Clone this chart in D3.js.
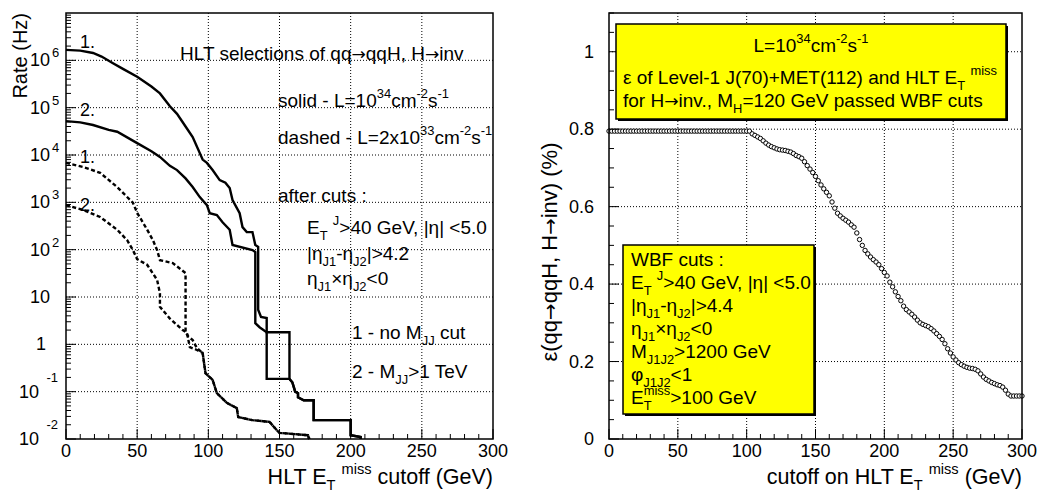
<!DOCTYPE html>
<html>
<head>
<meta charset="utf-8">
<script src="https://cdn.jsdelivr.net/npm/d3@7"></script>
<style>
  body { margin: 0; background: #fff; }
  svg text { font-family: "Liberation Sans", Arial, Helvetica, sans-serif; white-space: pre; }
</style>
</head>
<body>
<svg id="chart" width="1037" height="494"></svg>
<script>
// ---- left panel: rate vs HLT MET cutoff, [cutoff GeV, rate Hz] vertices ----
const solidNoMjj = [
  [0, 1.66e6], [10, 1.6e6], [19, 1.43e6], [25, 1.2e6], [33, 8.7e5], [40, 6.6e5], [50, 4.5e5],
  [60, 2.8e5], [66, 2.0e5], [73, 1.07e5], [78, 7.4e4], [84, 4.0e4], [89, 2.4e4], [96, 8e3],
  [99, 6.8e3], [103, 4.8e3], [108, 2.95e3], [112, 2.6e3], [115, 2.0e3], [117, 1.12e3],
  [122, 590], [124, 300], [127, 235], [131, 235], [133, 126], [135, 115],
  [135, 5.4], [137, 3.8], [141, 3.6], [141, 1.8], [157, 1.8], [157, 0.186], [159, 0.158],
  [160, 0.126], [161, 0.1], [163, 0.093], [163, 0.076], [167, 0.066], [174, 0.066],
  [174, 0.025], [200, 0.025], [200, 0.012], [207, 0.011], [207, 0.01]
]
const solidMjj = [
  [0, 5.2e4], [10, 4.9e4], [19, 4.3e4], [30, 3.4e4], [36, 3.1e4], [50, 1.78e4], [60, 1.2e4],
  [66, 9.1e3], [73, 5.9e3], [78, 4.8e3], [84, 3.2e3], [89, 2.1e3], [94, 1.29e3], [99, 870],
  [101, 590], [106, 540], [110, 380], [115, 263], [117, 126], [131, 98], [133, 89],
  [133, 2.8], [136, 2.3], [141, 1.8], [141, 0.186], [157, 0.186], [159, 0.158],
  [160, 0.126], [161, 0.1], [163, 0.093], [163, 0.076], [167, 0.066], [174, 0.066],
  [174, 0.025], [200, 0.025], [200, 0.012], [207, 0.011], [207, 0.01]
]
const dashedNoMjj = [
  [0, 6800], [12, 5600], [24, 4200], [36, 2100], [47, 980], [50, 600], [57, 265], [61, 160],
  [64, 98], [66, 60], [75, 52], [84, 32], [84, 1.8], [86, 1.45], [89, 1.23], [92, 0.83],
  [96, 0.66], [98, 0.245], [103, 0.178], [106, 0.093], [113, 0.058], [120, 0.045],
  [121, 0.029], [131, 0.025], [143, 0.023], [148, 0.0155], [150, 0.0135], [170, 0.012], [171, 0.01]
]
const dashedMjj = [
  [0, 870], [12, 690], [24, 490], [36, 263], [43, 158], [47, 98], [50, 63], [57, 48],
  [64, 23], [66, 12], [66, 6.2], [73, 3.5], [82, 2.0], [85, 1.74], [87, 0.87], [92, 0.76],
  [96, 0.66], [98, 0.245], [103, 0.178], [106, 0.093], [113, 0.058], [120, 0.045],
  [121, 0.029], [131, 0.025], [143, 0.023], [148, 0.0155], [150, 0.0135], [170, 0.012], [171, 0.01]
]
const rateExponents = [-2, -1, 0, 1, 2, 3, 4, 5, 6]
const cutTicks = [0, 50, 100, 150, 200, 250, 300]

// ---- right panel: efficiency vs cutoff, one value every 2 GeV from 0 to 300 ----
const effCutStep = 2
const effValues = [
  0.795, 0.795, 0.795, 0.795, 0.795, 0.795, 0.795, 0.795, 0.795, 0.795,
  0.795, 0.795, 0.795, 0.795, 0.795, 0.795, 0.795, 0.795, 0.795, 0.795,
  0.795, 0.795, 0.795, 0.795, 0.795, 0.795, 0.795, 0.795, 0.795, 0.795,
  0.795, 0.795, 0.795, 0.795, 0.795, 0.795, 0.795, 0.795, 0.795, 0.795,
  0.795, 0.795, 0.795, 0.795, 0.795, 0.795, 0.795, 0.795, 0.795, 0.795,
  0.795, 0.795, 0.788, 0.784, 0.780, 0.776, 0.770, 0.764, 0.759, 0.755,
  0.752, 0.749, 0.747, 0.746, 0.745, 0.743, 0.741, 0.737, 0.732, 0.729,
  0.725, 0.716, 0.706, 0.697, 0.688, 0.678, 0.667, 0.656, 0.646, 0.637,
  0.628, 0.612, 0.596, 0.583, 0.576, 0.570, 0.565, 0.560, 0.553, 0.547,
  0.532, 0.515, 0.500, 0.487, 0.478, 0.470, 0.463, 0.457, 0.450, 0.440,
  0.430, 0.421, 0.405, 0.393, 0.380, 0.368, 0.357, 0.343, 0.334, 0.328,
  0.322, 0.315, 0.307, 0.300, 0.296, 0.293, 0.290, 0.285, 0.279, 0.272,
  0.265, 0.257, 0.246, 0.233, 0.222, 0.212, 0.204, 0.197, 0.192, 0.188,
  0.185, 0.183, 0.182, 0.180, 0.176, 0.168, 0.160, 0.154, 0.150, 0.146,
  0.143, 0.140, 0.138, 0.134, 0.126, 0.116, 0.111, 0.111, 0.111, 0.111,
  0.111
]
const effTicks = [0, 0.2, 0.4, 0.6, 0.8, 1]

const leftNotes = [
  { x: 180, y: 60, s: 'HLT selections of qq→qqH, H→inv' },
  { x: 278, y: 107, s: 'solid - L=10^{34}cm^{-2}s^{-1}' },
  { x: 278, y: 144, s: 'dashed - L=2x10^{33}cm^{-2}s^{-1}' },
  { x: 278, y: 202, s: 'after cuts :' },
  { x: 307, y: 234, s: 'E_{T} ^{J}>40 GeV, |η| <5.0' },
  { x: 307, y: 260, s: '|η_{J1}-η_{J2}|>4.2' },
  { x: 307, y: 285, s: 'η_{J1}×η_{J2}<0' },
  { x: 352, y: 339, s: '1 - no M_{JJ} cut' },
  { x: 352, y: 378, s: '2 - M_{JJ}>1 TeV' }
]
const curveTags = [
  { x: 80, y: 48, s: '1.' }, { x: 80, y: 116, s: '2.' },
  { x: 80, y: 163, s: '1.' }, { x: 80, y: 211, s: '2.' }
]
const boxTopLines = [
  'L=10^{34}cm^{-2}s^{-1}',
  'ε of Level-1 J(70)+MET(112) and HLT E_{T} ^{miss}',
  'for H→inv., M_{H}=120 GeV passed WBF cuts'
]
const boxCutLines = [
  'WBF cuts :', 'E_{T} ^{J}>40 GeV, |η| <5.0', '|η_{J1}-η_{J2}|>4.4', 'η_{J1}×η_{J2}<0',
  'M_{J1J2}>1200 GeV', 'φ_{J1J2}<1', 'E_{T}^{miss}>100 GeV'
]

const svg = d3.select('#chart')

// ROOT-like text: _{..} subscript, ^{..} superscript; ^ right after _ is stacked
function rich(sel, str, fs) {
  const re = /([_^])\{([^}]*)\}/g
  const parts = []
  let last = 0, m
  while ((m = re.exec(str))) {
    if (m.index > last) parts.push({ t: str.slice(last, m.index), k: 'n' })
    parts.push({ t: m[2], k: m[1] === '_' ? 'sub' : 'sup' })
    last = re.lastIndex
  }
  if (last < str.length) parts.push({ t: str.slice(last), k: 'n' })
  let cur = 0, prev = null
  parts.forEach((p) => {
    const off = p.k === 'sub' ? 0.3 * fs : p.k === 'sup' ? -0.45 * fs : 0
    const size = p.k === 'n' ? fs : fs * 0.68
    const pieces = p.t.split(/(→)/).filter((s) => s !== '')
    let first = null, lastNode = null
    pieces.forEach((s, j) => {
      const ts = sel.append('tspan').attr('font-size', size).text(s)
      if (s === '→') ts.attr('font-family', 'DejaVu Sans').attr('font-size', size * 0.9)
      if (j === 0) { ts.attr('dy', off - cur); first = ts }
      lastNode = ts.node()
    })
    if (p.k === 'sup' && prev && prev.k === 'sub') {
      first.attr('dx', -prev.node.getComputedTextLength())
    }
    cur = off
    prev = { k: p.k, node: lastNode }
  })
  if (cur !== 0) sel.append('tspan').attr('dy', -cur).attr('font-size', fs).text('')
  return sel
}

function panel(x0, x1, y0, y1) {
  svg.append('rect').attr('x', x0).attr('y', y0).attr('width', x1 - x0).attr('height', y1 - y0)
    .attr('fill', 'none').attr('stroke', '#000').attr('stroke-width', 1.5)
}

// ================= left panel =================
const xL = d3.scaleLinear().domain([0, 300]).range([66, 493])
const yL = d3.scaleLog().domain([1e-2, 1e7]).range([439, 13])

const gL = svg.append('g')
// grid
gL.selectAll('.gx').data(cutTicks.slice(1, -1)).join('line')
  .attr('x1', (d) => xL(d)).attr('x2', (d) => xL(d)).attr('y1', 13).attr('y2', 439)
  .attr('stroke', '#000').attr('stroke-width', 1).attr('stroke-dasharray', '1,2')
gL.selectAll('.gy').data(rateExponents.slice(1)).join('line')
  .attr('x1', 66).attr('x2', 493).attr('y1', (d) => yL(10 ** d)).attr('y2', (d) => yL(10 ** d))
  .attr('stroke', '#000').attr('stroke-width', 1).attr('stroke-dasharray', '1,2')

// curves
const lineL = d3.line().x((d) => xL(d[0])).y((d) => yL(d[1]))
const curves = [
  { d: solidNoMjj, dash: null }, { d: solidMjj, dash: null },
  { d: dashedNoMjj, dash: '4,2.5' }, { d: dashedMjj, dash: '4,2.5' }
]
curves.forEach((c) => {
  gL.append('path').attr('d', lineL(c.d)).attr('fill', 'none').attr('stroke', '#000')
    .attr('stroke-width', 2.4).attr('stroke-dasharray', c.dash)
})

panel(66, 493, 13, 439)

// x ticks (inward)
const xMinor = d3.range(0, 301, 10)
gL.selectAll('.tx').data(xMinor).join('line')
  .attr('x1', (d) => xL(d)).attr('x2', (d) => xL(d)).attr('y1', 439)
  .attr('y2', (d) => (d % 50 === 0 ? 429 : 434)).attr('stroke', '#000').attr('stroke-width', 1)
gL.selectAll('.lx').data(cutTicks).join('text')
  .attr('x', (d) => xL(d)).attr('y', 457).attr('text-anchor', 'middle').attr('font-size', 18).text((d) => d)

// y ticks (log)
const logMinor = []
for (let e = -2; e < 7; e++) for (let k = 2; k <= 9; k++) logMinor.push(k * 10 ** e)
gL.selectAll('.tym').data(logMinor).join('line')
  .attr('x1', 66).attr('x2', 71).attr('y1', (d) => yL(d)).attr('y2', (d) => yL(d))
  .attr('stroke', '#000').attr('stroke-width', 1)
gL.selectAll('.tyM').data(rateExponents).join('line')
  .attr('x1', 66).attr('x2', 76).attr('y1', (d) => yL(10 ** d)).attr('y2', (d) => yL(10 ** d))
  .attr('stroke', '#000').attr('stroke-width', 1)
rateExponents.forEach((e) => {
  const y = yL(10 ** e)
  if (e === 0) {
    gL.append('text').attr('x', 46).attr('y', y + 6).attr('text-anchor', 'end').attr('font-size', 18).text('1')
  } else if (e === 1) {
    gL.append('text').attr('x', 50).attr('y', y + 6).attr('text-anchor', 'end').attr('font-size', 18).text('10')
  } else if (e > 1) {
    gL.append('text').attr('x', 50).attr('y', y + 6).attr('text-anchor', 'end').attr('font-size', 18).text('10')
    gL.append('text').attr('x', 52).attr('y', y - 3).attr('font-size', 13).text(e)
  } else {
    gL.append('text').attr('x', 39).attr('y', y + 6).attr('text-anchor', 'end').attr('font-size', 18).text('10')
    gL.append('text').attr('x', 58).attr('y', y - 10).attr('text-anchor', 'end').attr('font-size', 13).text(e)
  }
})

// titles
gL.append('text').attr('transform', 'translate(27,13) rotate(-90)').attr('text-anchor', 'end')
  .attr('font-size', 20).text('Rate (Hz)')
rich(gL.append('text').attr('x', 493).attr('y', 484).attr('text-anchor', 'end'), 'HLT E_{T} ^{miss} cutoff (GeV)', 21.5)

leftNotes.forEach((n) => rich(gL.append('text').attr('x', n.x).attr('y', n.y), n.s, 19))
curveTags.forEach((n) => gL.append('text').attr('x', n.x).attr('y', n.y).attr('font-size', 18).text(n.s))

// ================= right panel =================
const xR = d3.scaleLinear().domain([0, 300]).range([609, 1022])
const yR = d3.scaleLinear().domain([0, 1.1]).range([439, 13])
const gR = svg.append('g')

gR.selectAll('.gx').data(cutTicks.slice(1, -1)).join('line')
  .attr('x1', (d) => xR(d)).attr('x2', (d) => xR(d)).attr('y1', 13).attr('y2', 439)
  .attr('stroke', '#000').attr('stroke-width', 1).attr('stroke-dasharray', '1,2')
gR.selectAll('.gy').data(effTicks.slice(1)).join('line')
  .attr('x1', 609).attr('x2', 1022).attr('y1', (d) => yR(d)).attr('y2', (d) => yR(d))
  .attr('stroke', '#000').attr('stroke-width', 1).attr('stroke-dasharray', '1,2')

gR.selectAll('circle').data(effValues).join('circle')
  .attr('cx', (d, i) => xR(i * effCutStep)).attr('cy', (d) => yR(d)).attr('r', 2.2)
  .attr('fill', '#fff').attr('stroke', '#000').attr('stroke-width', 1)

panel(609, 1022, 13, 439)

gR.selectAll('.tx').data(xMinor).join('line')
  .attr('x1', (d) => xR(d)).attr('x2', (d) => xR(d)).attr('y1', 439)
  .attr('y2', (d) => (d % 50 === 0 ? 429 : 434)).attr('stroke', '#000').attr('stroke-width', 1)
gR.selectAll('.lx').data(cutTicks).join('text')
  .attr('x', (d) => xR(d)).attr('y', 457).attr('text-anchor', 'middle').attr('font-size', 18).text((d) => d)
const yMinorR = d3.range(0, 1.1001, 0.05)
gR.selectAll('.ty').data(yMinorR).join('line')
  .attr('x1', 609).attr('x2', (d, i) => (i % 4 === 0 ? 619 : 614)).attr('y1', (d) => yR(d)).attr('y2', (d) => yR(d))
  .attr('stroke', '#000').attr('stroke-width', 1)
gR.selectAll('.ly').data(effTicks).join('text')
  .attr('x', 594).attr('y', (d) => yR(d) + 6).attr('text-anchor', 'end').attr('font-size', 18).text((d) => d)

rich(gR.append('text').attr('transform', 'translate(557,252) rotate(-90)').attr('text-anchor', 'middle'),
  'ε(qq→qqH, H→inv) (%)', 22)
rich(gR.append('text').attr('x', 1022).attr('y', 484).attr('text-anchor', 'end'), 'cutoff on HLT E_{T} ^{miss} (GeV)', 21.5)

// info boxes
function box(x0, y0, x1, y1) {
  gR.append('rect').attr('x', x0 + 2).attr('y', y0 + 2).attr('width', x1 - x0).attr('height', y1 - y0).attr('fill', '#000')
  gR.append('rect').attr('x', x0).attr('y', y0).attr('width', x1 - x0).attr('height', y1 - y0)
    .attr('fill', '#ffff00').attr('stroke', '#000').attr('stroke-width', 1.5)
}
box(616, 24, 1006, 119)
rich(gR.append('text').attr('x', 811).attr('y', 52).attr('text-anchor', 'middle'), boxTopLines[0], 19)
rich(gR.append('text').attr('x', 623).attr('y', 84), boxTopLines[1], 19)
rich(gR.append('text').attr('x', 623).attr('y', 107), boxTopLines[2], 19)

box(623, 245, 814, 414)
boxCutLines.forEach((s, i) => rich(gR.append('text').attr('x', 631).attr('y', 266 + i * 23), s, 19))
</script>
</body>
</html>
